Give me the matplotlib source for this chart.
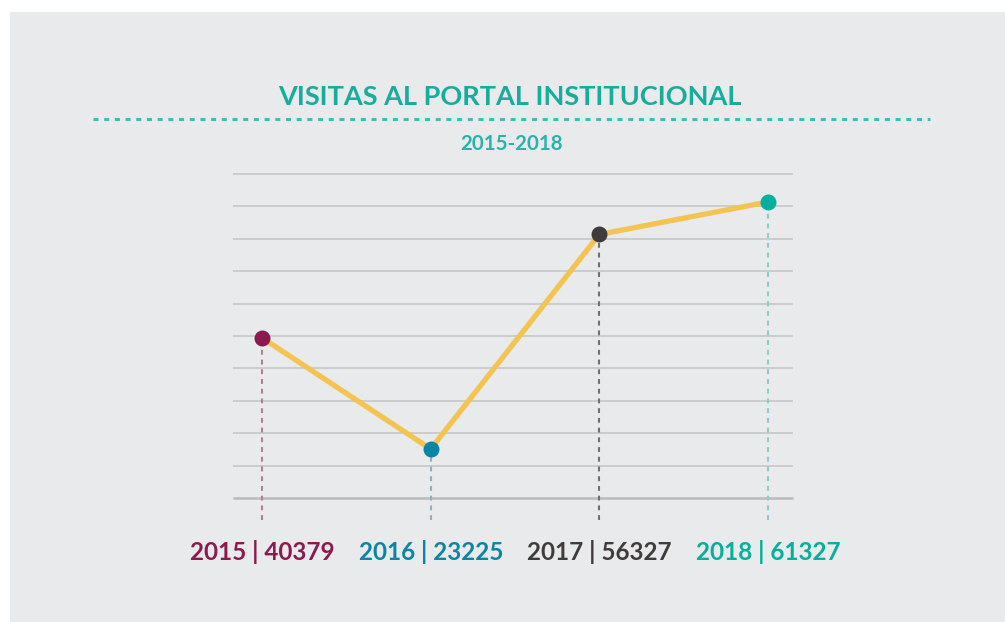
import matplotlib
matplotlib.use("Agg")
import matplotlib.pyplot as plt
from matplotlib.patches import Rectangle
from matplotlib.lines import Line2D

plt.rcParams['lines.scale_dashes'] = False
plt.rcParams['font.family'] = ['Lato', 'DejaVu Sans']

# ---- data ----
years = ["2015", "2016", "2017", "2018"]
visits = [40379, 23225, 56327, 61327]
point_colors = ["#8b1a4f", "#0b85a6", "#403c3c", "#00b09c"]
drop_colors = ["#b07f94", "#86b3c5", "#707070", "#86cfca"]
title = "VISITAS AL PORTAL INSTITUCIONAL"
subtitle = "2015-2018"

W, H = 1005, 622
fig = plt.figure(figsize=(W / 100, H / 100), dpi=100)
fig.patch.set_facecolor("white")

def fx(px):
    return px / W

def fy(py):
    return 1 - py / H

# background panel
fig.patches.append(Rectangle((fx(10), 0), 1 - fx(10), fy(12), transform=fig.transFigure,
                             facecolor="#e9eaeb", edgecolor="none", zorder=-5))

ax = fig.add_axes([0, 0, 1, 1])
ax.set_zorder(2)
ax.set_facecolor("none")
ax.axis("off")

# scale mapping (layout)
x_px0, x_step = 262, 168.7
ax.set_xlim(-x_px0 / x_step, (W - x_px0) / x_step)
px_per_unit = 0.006483
ymin = 23225 - (H - 449) / px_per_unit
ax.set_ylim(ymin, ymin + H / px_per_unit)

xs = list(range(len(years)))

# grid lines
grid_start, grid_step, n_grid = 15667, 5000, 11
gx0, gx1 = -29 / x_step, (793 - x_px0) / x_step
for k in range(n_grid):
    v = grid_start + k * grid_step
    if k == 0:
        ax.plot([gx0, gx1], [v, v], color="#b9babc", lw=1.8, solid_capstyle="butt", zorder=1)
    else:
        ax.plot([gx0, gx1], [v, v], color="#cbcccd", lw=1.4, solid_capstyle="butt", zorder=1)

# drop lines
drop_bottom = grid_start - 3400
for x, v, c in zip(xs, visits, drop_colors):
    ax.plot([x, x], [drop_bottom, v], color=c, lw=1.5, dashes=(3.5, 3.5), zorder=2)

# main line
ax.plot(xs, visits, color="#f3c452", lw=3.8, solid_joinstyle="miter", zorder=3)
for x, v, c in zip(xs, visits, point_colors):
    ax.plot([x], [v], "o", ms=11.5, color=c, mec="none", zorder=4)

# labels
for x, y, v, c in zip(xs, years, visits, point_colors):
    ax.text(x, ymin + (H - 560) / px_per_unit, f"{y} | {v}", color=c, ha="center",
            va="baseline", fontsize=17.5, fontweight="bold")

# title
fig.text(fx(510), fy(105), title, ha="center", va="baseline", fontsize=19.5,
         fontweight="bold", color="#16ad9d")
fig.lines.append(Line2D([fx(93), fx(930)], [fy(119), fy(119)], transform=fig.transFigure,
                        color="#3bbfbb", lw=2.2, dashes=(3.6, 4.1)))
fig.text(fx(511), fy(150), subtitle, ha="center", va="baseline", fontsize=14.8,
         fontweight="bold", color="#2bb3ab")

fig.savefig("out.png", dpi=100, facecolor=fig.get_facecolor())
